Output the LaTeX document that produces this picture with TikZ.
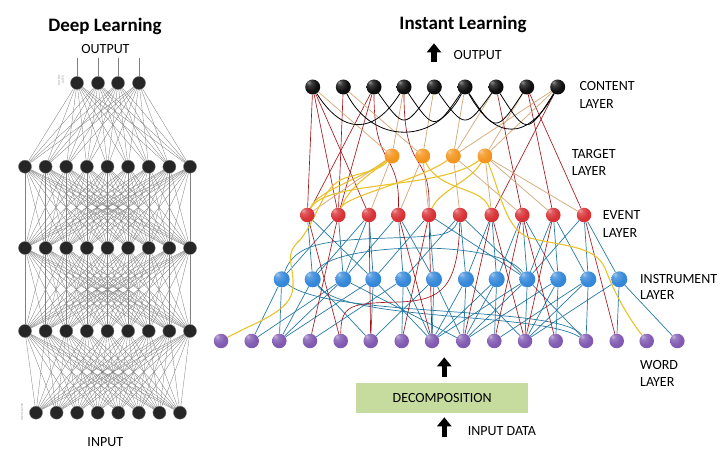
\documentclass[tikz,border=0pt]{standalone}
\usepackage{fontspec}
\setmainfont{Carlito}
\usetikzlibrary{arrows.meta}
\pgfdeclarelayer{background}
\pgfsetlayers{background,main}
\makeatletter
\pgfdeclareradialshading[tikz@ball]{softball}{\pgfqpoint{-14bp}{16bp}}{%
  color(0bp)=(tikz@ball!45!white);
  color(9bp)=(tikz@ball!78!white);
  color(24bp)=(tikz@ball!96!white);
  color(40bp)=(tikz@ball);
  color(58bp)=(tikz@ball!86!black);
  color(80bp)=(tikz@ball!72!black)}
\makeatother
\definecolor{redE}{HTML}{A3161C}
\definecolor{tanE}{HTML}{D4AA7C}
\definecolor{yelE}{HTML}{E9C22C}
\definecolor{tealE}{HTML}{267AA3}
\definecolor{orangeN}{HTML}{F39218}
\definecolor{redN}{HTML}{D72C30}
\definecolor{blueN}{HTML}{2F84D8}
\definecolor{purpleN}{HTML}{7D55B0}
\definecolor{boxG}{HTML}{C6DC9E}
\tikzset{
  dnode/.style={circle, fill=black!85, draw=black!55, line width=0.4pt, minimum size=13pt, inner sep=0pt},
  dedge/.style={draw=black!50, line width=0.33pt},
  ballnode/.style={circle, inner sep=0pt, ball color=#1, shading=softball},
  cnode/.style={ballnode=black!97, minimum size=15pt},
  tnode/.style={ballnode=orangeN, minimum size=15pt},
  enode/.style={ballnode=redN, minimum size=14.5pt},
  inode/.style={ballnode=blueN, minimum size=16pt},
  wnode/.style={ballnode=purpleN, minimum size=14.5pt},
  redline/.style={draw=redE, line width=0.65pt},
  tanline/.style={draw=tanE, line width=0.75pt},
  yelline/.style={draw=yelE, line width=1.1pt},
  tealline/.style={draw=tealE, line width=0.7pt},
  blkline/.style={draw=black, line width=0.8pt},
  lbl/.style={font=\fontsize{14}{14}\selectfont, anchor=base west, inner sep=0pt},
  clbl/.style={font=\fontsize{14}{14}\selectfont, anchor=base, inner sep=0pt},
  ttl/.style={font=\fontsize{19}{19}\selectfont\bfseries, anchor=base, inner sep=0pt},
  tiny/.style={font=\fontsize{3.2}{3.6}\selectfont, text=black!40, align=center, rotate=90, inner sep=0pt},
  blockarrow/.style={draw=black, line width=5.5pt, -{Triangle[width=14pt,length=9pt]}},
  decobox/.style={fill=boxG, minimum width=172pt, minimum height=30.6pt, inner sep=0pt, font=\fontsize{14}{14}\selectfont}
}
\begin{document}
\begin{tikzpicture}[x=1pt,y=-1pt]
\useasboundingbox (0,0) rectangle (720,462);

% ================= DEEP LEARNING =================
\node[ttl] (dtitle) at (105,31.5) {Deep Learning};
\node[clbl] (dout) at (105.5,53.3) {OUTPUT};
\node[clbl] (din) at (105.3,446) {INPUT};

\foreach \x [count=\i] in {77,98,118,139} \node[dnode] (do\i) at (\x,83) {};
\foreach \i in {1,...,9} {
  \pgfmathsetmacro\xx{25+20.625*(\i-1)}
  \node[dnode] (da\i) at (\xx,166.7) {};
  \node[dnode] (db\i) at (\xx,248) {};
  \node[dnode] (dc\i) at (\xx,331) {};
}
\foreach \i in {1,...,8} {
  \pgfmathsetmacro\xx{36+20.57*(\i-1)}
  \node[dnode] (dd\i) at (\xx,412.7) {};
}
\node[tiny] (olab) at (61,80) {OUTPUT\\LAYER};
\node[tiny] (ilab) at (22,412) {INPUT LAYER};

\begin{pgfonlayer}{background}
\foreach \i in {1,...,4} {
  \path (do\i) ++(0,-25) coordinate (dt\i);
  \draw[dedge] (do\i) -- (dt\i);
  \foreach \j in {1,...,9} \draw[dedge] (do\i) -- (da\j);
}
\foreach \i in {1,...,9} {
  \foreach \j in {1,...,9} {
    \draw[dedge] (da\i) -- (db\j);
    \draw[dedge] (db\i) -- (dc\j);
  }
  \foreach \j in {1,...,8} \draw[dedge] (dc\i) -- (dd\j);
}
\end{pgfonlayer}

% ================= INSTANT LEARNING =================
\node[ttl] (ititle) at (463,29.3) {Instant Learning};
\coordinate (oa1) at (434,62.3);
\coordinate (oa2) at (434,43.3);
\draw[blockarrow] (oa1) -- (oa2);
\node[lbl] (iout) at (453.3,60) {OUTPUT};

\foreach \x [count=\i] in {312.7,343.3,374,404,434.3,465,496,526.7,557.7}
  \node[cnode] (c\i) at (\x,87) {};
\foreach \x [count=\i] in {392,422.7,453.3,485}
  \node[tnode] (t\i) at (\x,156) {};
\foreach \x [count=\i] in {307.3,338.3,369,398.3,429,460,491.7,522.3,553.3,584}
  \node[enode] (e\i) at (\x,215) {};
\foreach \x [count=\i] in {281.7,312.7,343.3,373.3,403.3,434,466,496.7,527.3,558.3,588.3,619.3}
  \node[inode] (i\i) at (\x,279.3) {};
\foreach \x [count=\i] in {221,251.7,279.3,310,340.7,370.7,401.7,432,463.3,494.3,525,555.7,586,616.7,646.7,677.3}
  \node[wnode] (w\i) at (\x,341) {};

\node[lbl] (lc1) at (579.3,90.7) {CONTENT};
\node[lbl] (lc2) at (579.3,108.3) {LAYER};
\node[lbl] (lt1) at (571.7,158.3) {TARGET};
\node[lbl] (lt2) at (571.7,176) {LAYER};
\node[lbl] (le1) at (602.7,220) {EVENT};
\node[lbl] (le2) at (602.7,237.7) {LAYER};
\node[lbl] (li1) at (640,283.3) {INSTRUMENT};
\node[lbl] (li2) at (640,300) {LAYER};
\node[lbl] (lw1) at (640,369.3) {WORD};
\node[lbl] (lw2) at (640,386.7) {LAYER};

\node[decobox] (deco) at (442.2,398) {DECOMPOSITION};
\coordinate (ua) at (444.3,357.3);
\draw[blockarrow] (deco.north) ++(2.1,-5.8) coordinate (ub) (ub) -- (ua);
\coordinate (la1) at (444.3,437.3);
\coordinate (la2) at (444.3,417.3);
\draw[blockarrow] (la1) -- (la2);
\node[lbl] (indata) at (467.7,435) {INPUT DATA};

\begin{pgfonlayer}{background}
% teal event -> instrument
\foreach \a/\b in {1/4,1/2,2/1,2/3,3/2,3/3,3/4,4/5,4/6,4/3,5/4,5/6,5/9,6/5,6/7,6/9,7/7,7/8,8/8,8/9,8/10,9/9,9/10,9/11,10/11,10/12,10/9}
  \draw[tealline] (e\a) -- (i\b);
% teal instrument -> word
\foreach \a/\b in {1/2,1/3,2/3,2/6,3/2,3/3,3/9,4/3,4/6,4/8,5/7,5/8,5/4,6/8,6/9,6/6,7/8,7/9,7/11,8/9,8/10,8/8,9/11,9/9,9/8,9/13,10/11,10/9,10/12,11/13,11/11,11/10,12/14,12/11,12/16}
  \draw[tealline] (i\a) -- (w\b);
% long teal curves
\draw[tealline] (i1) .. controls (295,245) and (320,240) .. (390,238) .. controls (440,236) and (452,236) .. (e6);
\draw[tealline] (i2) .. controls (330,242) and (500,238) .. (i9);
\draw[tealline] (i1) .. controls (330,318) and (560,305) .. (w13);
\draw[tealline] (i2) .. controls (345,322) and (540,312) .. (w13);
% red event -> word
\foreach \a/\b in {1/5,2/4,4/8,5/7,5/8,7/9,7/11,8/10,8/12,9/11,10/14,3/6}
  \draw[redline] (e\a) -- (w\b);
\draw[redline] (w5) .. controls (341,305) and (350,303) .. (400,302) .. controls (440,300) and (458,290) .. (e6);
% red content -> event
\foreach \a/\b in {1/1,1/2,1/3,2/2,3/1,3/2,7/8,8/9,8/10,9/7}
  \draw[redline] (c\a) -- (e\b);
\draw[redline] (c3) .. controls (374,170) and (400,150) .. (e4);
\draw[redline] (c4) .. controls (404,175) and (430,150) .. (e5);
% tan
\foreach \a/\b in {1/1,2/2,4/1,5/2,6/3,7/3,8/4,9/4,9/3}
  \draw[tanline] (c\a) -- (t\b);
\foreach \a/\b in {1/3,1/1,2/4,3/6,3/8,4/7,4/9,4/10,2/5}
  \draw[tanline] (t\a) -- (e\b);
% black curves in content layer
\foreach \a/\b/\d in {1/4/48,2/6/58,3/5/42,4/6/44,5/7/42,6/8/46,7/9/48,6/9/54}
  \draw[blkline] (c\a) .. controls +(30,\d) and +(-30,\d) .. (c\b);
% yellow curves
\draw[yelline] (w1) .. controls (255,322) and (292,312) .. (293,287) .. controls (294,262) and (283,256) .. (300,240) .. controls (318,218) and (322,186) .. (345,178) .. controls (365,172) and (380,170) .. (t1);
\draw[yelline] (t4) .. controls (500,190) and (505,230) .. (530,238) .. controls (560,246) and (595,245) .. (605,268) .. controls (615,295) and (630,320) .. (w15);
\draw[yelline] (e1) .. controls (325,180) and (440,190) .. (t4);
\draw[yelline] (e2) .. controls (350,185) and (370,175) .. (t1);
\draw[yelline] (e2) .. controls (345,196) and (420,180) .. (t3);
\draw[yelline] (t2) .. controls (440,192) and (482,186) .. (e7);
\draw[yelline] (t1) .. controls (360,180) and (318,190) .. (e1);
\draw[yelline] (t4) .. controls (470,182) and (440,190) .. (e5);
\end{pgfonlayer}
\end{tikzpicture}
\end{document}
